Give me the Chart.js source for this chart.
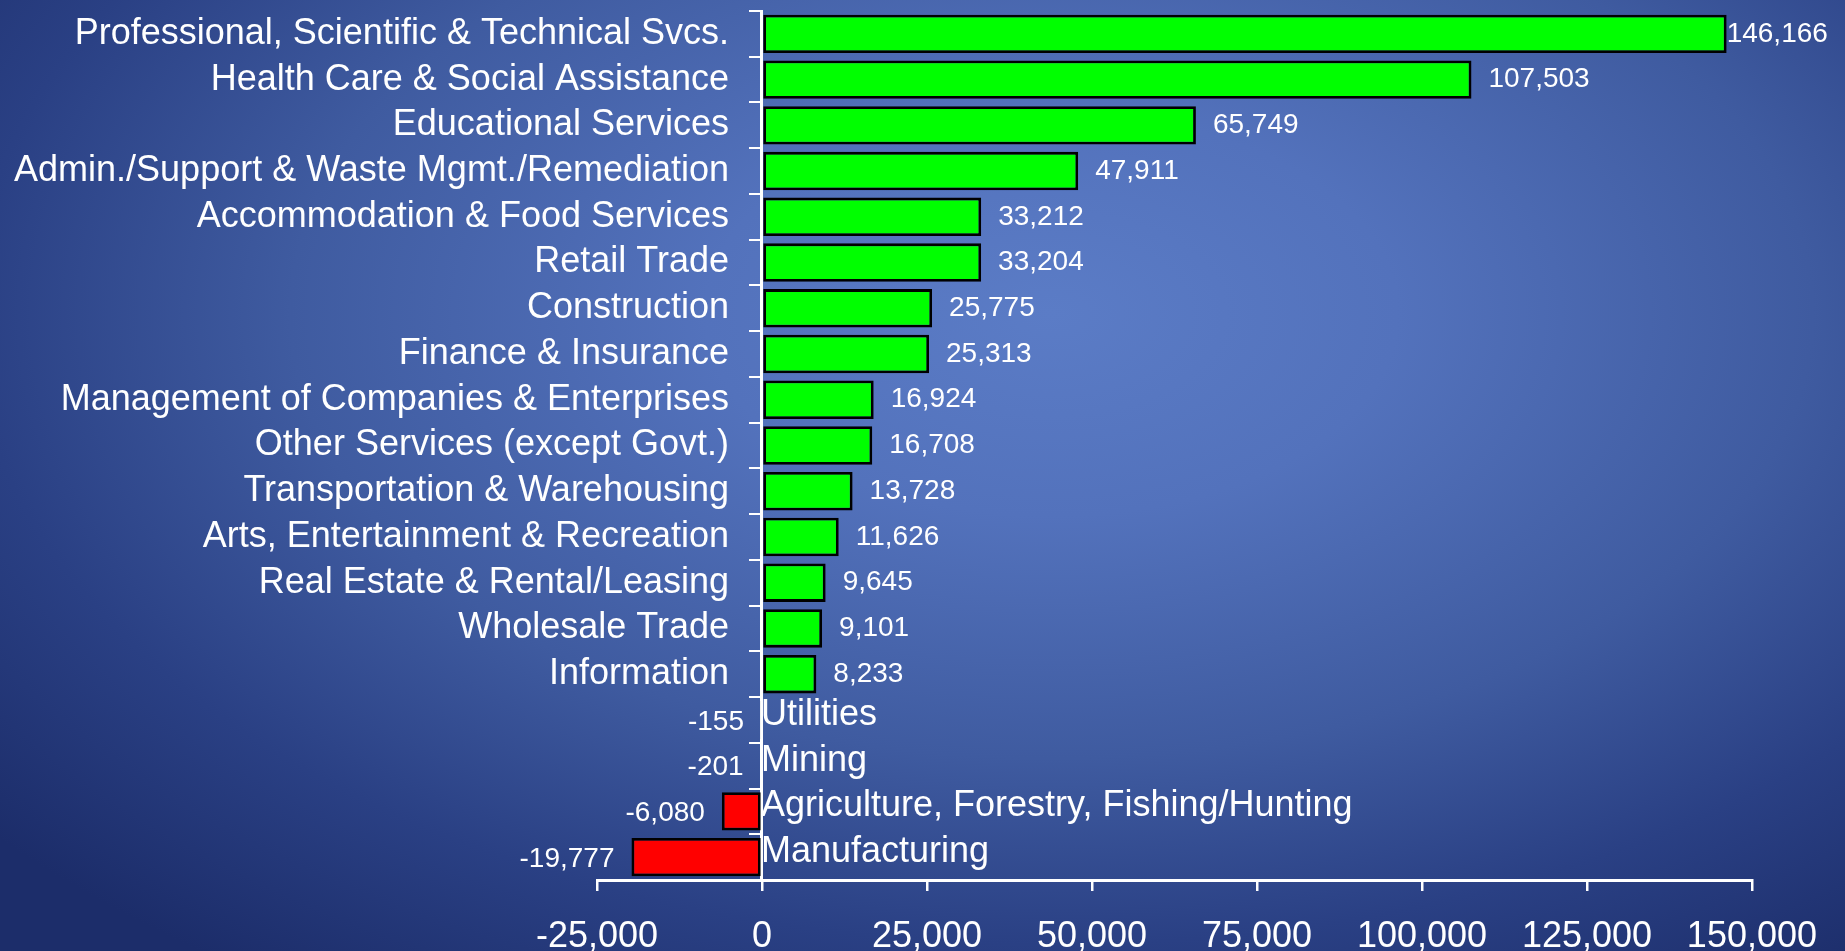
<!DOCTYPE html>
<html>
<head>
<meta charset="utf-8">
<script src="https://cdn.jsdelivr.net/npm/chart.js@4/dist/chart.umd.min.js"></script>
<style>
  html, body { margin: 0; padding: 0; width: 1845px; height: 951px; overflow: hidden; }
  body {
    background: radial-gradient(ellipse 75% 85% at 57% 33%, #5B7CC6 0%, #5372BC 25%, #3F5BA0 55%, #2A4084 78%, #1C2D6A 100%);
  }
  #wrap { position: absolute; left: 0; top: 0; width: 1845px; height: 951px; }
</style>
</head>
<body>
<div id="wrap"><canvas id="c" width="1845" height="951"></canvas></div>
<script>
const categories = [
  "Professional, Scientific & Technical Svcs.",
  "Health Care & Social Assistance",
  "Educational Services",
  "Admin./Support & Waste Mgmt./Remediation",
  "Accommodation & Food Services",
  "Retail Trade",
  "Construction",
  "Finance & Insurance",
  "Management of Companies & Enterprises",
  "Other Services (except Govt.)",
  "Transportation & Warehousing",
  "Arts, Entertainment & Recreation",
  "Real Estate & Rental/Leasing",
  "Wholesale Trade",
  "Information",
  "Utilities",
  "Mining",
  "Agriculture, Forestry, Fishing/Hunting",
  "Manufacturing"
];
const jobChange = [146166, 107503, 65749, 47911, 33212, 33204, 25775, 25313, 16924, 16708, 13728, 11626, 9645, 9101, 8233, -155, -201, -6080, -19777];
const xTickValues = [-25000, 0, 25000, 50000, 75000, 100000, 125000, 150000];

const FONT = '"Liberation Sans", Arial, sans-serif';
const fmt = v => v.toLocaleString('en-US');

const labelPlugin = {
  id: 'labelPlugin',
  afterDatasetsDraw(chart) {
    const ctx = chart.ctx;
    const xs = chart.scales.x, ys = chart.scales.y;
    const zeroX = xs.getPixelForValue(0);
    ctx.save();
    ctx.fillStyle = '#FFFFFF';
    ctx.textBaseline = 'middle';
    categories.forEach((name, i) => {
      const v = jobChange[i];
      const yc = ys.getPixelForValue(i);
      ctx.font = '36px ' + FONT;
      if (v >= 0) {
        ctx.textAlign = 'right';
        ctx.fillText(name, zeroX - 33, yc);
      } else {
        ctx.textAlign = 'left';
        ctx.fillText(name, zeroX - 1, yc - 5);
      }
      ctx.font = '28px ' + FONT;
      const end = xs.getPixelForValue(v);
      const txt = fmt(v);
      if (v >= 0) {
        let x = end + 17;
        const w = ctx.measureText(txt).width;
        if (x + w > chart.width - 15) x = end;
        ctx.textAlign = 'left';
        ctx.fillText(txt, x, yc);
      } else {
        ctx.textAlign = 'right';
        ctx.fillText(txt, end - 17, yc + 2);
      }
    });
    ctx.restore();
  }
};

new Chart(document.getElementById('c'), {
  type: 'bar',
  data: {
    labels: categories,
    datasets: [{
      data: jobChange,
      backgroundColor: jobChange.map(v => v >= 0 ? '#00FF00' : '#FF0000'),
      borderColor: '#000000',
      borderWidth: 2.8,
      borderSkipped: false,
      categoryPercentage: 0.84,
      barPercentage: 1.0
    }]
  },
  options: {
    indexAxis: 'y',
    responsive: false,
    animation: false,
    layout: { padding: { left: 597, right: 91, top: 11, bottom: 0 } },
    plugins: { legend: { display: false }, tooltip: { enabled: false } },
    scales: {
      x: {
        type: 'linear',
        min: -25000,
        max: 150000,
        afterBuildTicks(scale) { scale.ticks = xTickValues.map(v => ({ value: v })); },
        afterFit(scale) { scale.height = 71; },
        grid: { drawOnChartArea: false, drawTicks: true, tickLength: 11, color: '#FFFFFF', lineWidth: 2.5 },
        border: { display: true, color: '#FFFFFF', width: 3 },
        ticks: {
          color: '#FFFFFF',
          font: { family: FONT, size: 36, lineHeight: 1 },
          padding: 28,
          maxRotation: 0,
          autoSkip: false,
          callback: v => fmt(v)
        }
      },
      y: {
        type: 'category',
        position: { x: 0 },
        offset: true,
        grid: { drawOnChartArea: false, drawTicks: true, tickLength: 11, color: '#FFFFFF', lineWidth: 2, offset: true },
        border: { display: true, color: '#FFFFFF', width: 3 },
        ticks: { display: false }
      }
    }
  },
  plugins: [labelPlugin]
});
</script>
</body>
</html>
